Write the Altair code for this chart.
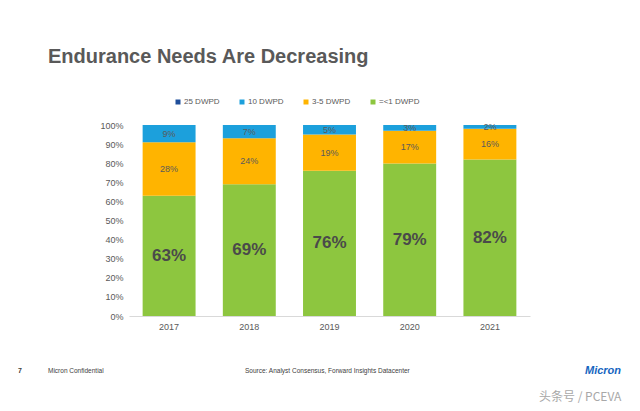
import altair as alt
import pandas as pd

# Data
years = ["2017", "2018", "2019", "2020", "2021"]
series = ["25 DWPD", "10 DWPD", "3-5 DWPD", "=<1 DWPD"]
colors = ["#1F4E9A", "#1CA0DC", "#FFB400", "#8DC63F"]
pct_25 = [0, 0, 0, 0, 0]
pct_10 = [9, 7, 5, 3, 2]
pct_35 = [28, 24, 19, 17, 16]
pct_le1 = [63, 69, 76, 79, 82]
y_ticks = [0, 0.1, 0.2, 0.3, 0.4, 0.5, 0.6, 0.7, 0.8, 0.9, 1.0]

rows = []
for s, vals, rank in [("=<1 DWPD", pct_le1, 0), ("3-5 DWPD", pct_35, 1),
                      ("10 DWPD", pct_10, 2), ("25 DWPD", pct_25, 3)]:
    for y, v in zip(years, vals):
        rows.append({"year": y, "series": s, "pct": v, "rank": rank})
df = pd.DataFrame(rows)

base = (
    alt.Chart(df)
    .transform_stack(stack="pct", groupby=["year"], as_=["y0", "y1"],
                     sort=[alt.SortField("rank")], offset="normalize")
    .transform_calculate(mid="(datum.y0 + datum.y1) / 2",
                         label="datum.pct + '%'")
)

x_axis = alt.Axis(labelAngle=0, ticks=False, domainColor="#d9d9d9",
                  labelColor="#595959", labelFontSize=9,
                  labelPadding=6, labelFont="Liberation Sans")
y_axis = alt.Axis(format=".0%", values=y_ticks,
                  grid=False, ticks=False, domain=False,
                  labelOverlap=False, labelBound=False,
                  labelColor="#595959", labelFontSize=9,
                  labelPadding=6, labelFont="Liberation Sans")
x_scale = alt.Scale(paddingInner=0.34, paddingOuter=0.17)
y_scale = alt.Scale(domain=[0, 1])

bars = base.mark_bar().encode(
    x=alt.X("year:N", title=None, scale=x_scale, axis=x_axis),
    y=alt.Y("y0:Q", title=None, scale=y_scale, axis=y_axis),
    y2="y1:Q",
    color=alt.Color("series:N",
                    scale=alt.Scale(domain=series, range=colors),
                    legend=alt.Legend(title=None, orient="none",
                                      direction="horizontal",
                                      legendX=45, legendY=-27,
                                      symbolType="square", symbolSize=25,
                                      labelFontSize=8, labelColor="#595959",
                                      labelFont="Liberation Sans",
                                      columnPadding=18, labelOffset=2)),
)

big_labels = base.transform_filter("datum.rank == 0").mark_text(
    fontSize=17, fontWeight="bold", color="#4a4a4a",
    font="Liberation Sans", baseline="middle"
).encode(x=alt.X("year:N", title=None, scale=x_scale, axis=x_axis),
         y=alt.Y("mid:Q", title=None, scale=y_scale, axis=y_axis),
         text="label:N")

small_labels = base.transform_filter("datum.rank > 0 && datum.pct > 0").mark_text(
    fontSize=9, color="#5a5a5a", font="Liberation Sans", baseline="middle"
).encode(x=alt.X("year:N", title=None, scale=x_scale, axis=x_axis),
         y=alt.Y("mid:Q", title=None, scale=y_scale, axis=y_axis),
         text="label:N")


def note(text, x, y, size, color="#404040", weight="normal",
         font="Liberation Sans", style="normal"):
    return alt.Chart(pd.DataFrame({"t": [text]})).mark_text(
        align="left", baseline="alphabetic", fontSize=size, color=color,
        fontWeight=weight, font=font, fontStyle=style
    ).encode(x=alt.value(x), y=alt.value(y), text="t:N")


title = note("Endurance Needs Are Decreasing", -81, -62, 20,
             color="#595959", weight="bold")
page_no = note("7", -111, 248, 7, weight="bold")
conf = note("Micron Confidential", -81, 248, 6.5)
source = note("Source: Analyst Consensus, Forward Insights Datacenter",
              116, 248, 6.5)
logo = note("Micron", 456, 249, 11, color="#1565C0", weight="bold",
            style="italic")
mark = note("头条号 / PCEVA", 410, 276, 12, color="#a8a8a8",
            font="Noto Sans CJK SC")

chart = (
    alt.layer(bars, big_labels, small_labels, title, page_no, conf,
              source, logo, mark)
    .properties(width=401, height=191,
                autosize=alt.AutoSizeParams(type="none"),
                padding={"left": 121, "top": 117, "right": 102, "bottom": 87})
    .configure_view(strokeWidth=0)
)

chart.save("out.html", embed_options={"renderer": "svg", "actions": False})
